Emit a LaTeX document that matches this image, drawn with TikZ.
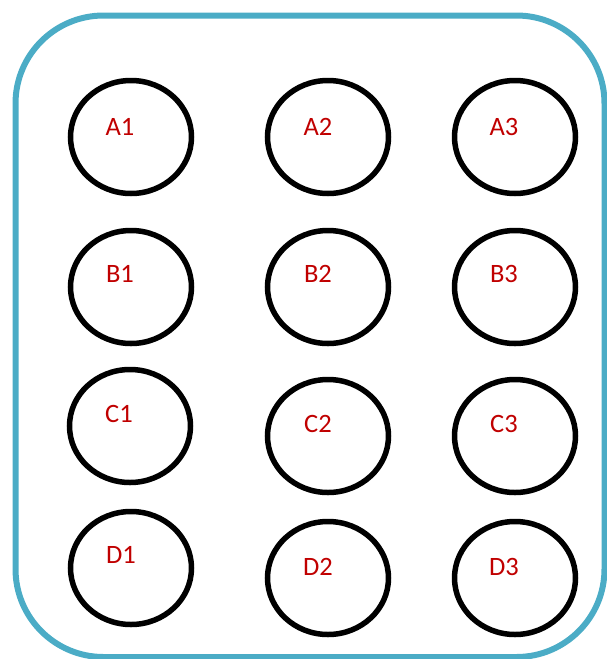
\documentclass[tikz,border=0pt]{standalone}
\usepackage{fontspec}
\setmainfont{Carlito}
\usetikzlibrary{shapes.geometric}
\definecolor{frameblue}{HTML}{4BACC6}
\definecolor{labred}{HTML}{C00000}
\tikzset{
  well/.style={draw=black, line width=5.5pt, ellipse, minimum width=121pt, minimum height=113pt, inner sep=0pt},
  welllabel/.style={text=labred, font=\fontsize{26.5}{30}\selectfont, inner sep=0pt, anchor=center}
}
\begin{document}
\begin{tikzpicture}[x=1pt,y=-1pt]
\useasboundingbox (0,0) rectangle (606,659);
\draw[frameblue, line width=6pt, rounded corners=88pt] (15.5,15.5) rectangle (604.5,657);
% wells
\node[well] (A1) at (131,137) {};
\node[well] (A2) at (328,137) {};
\node[well] (A3) at (515,137) {};
\node[well] (B1) at (131,287) {};
\node[well] (B2) at (328,287) {};
\node[well] (B3) at (515,287) {};
\node[well] (C1) at (130,426) {};
\node[well] (C2) at (328,436) {};
\node[well] (C3) at (515,436) {};
\node[well] (D1) at (131,568) {};
\node[well] (D2) at (328,578) {};
\node[well] (D3) at (515,578) {};
% labels
\node[welllabel] (lA1) at (120,127) {A1};
\node[welllabel] (lA2) at (318,127) {A2};
\node[welllabel] (lA3) at (504,127) {A3};
\node[welllabel] (lB1) at (120,274) {B1};
\node[welllabel] (lB2) at (318,274) {B2};
\node[welllabel] (lB3) at (504,274) {B3};
\node[welllabel] (lC1) at (119,414) {C1};
\node[welllabel] (lC2) at (318,424) {C2};
\node[welllabel] (lC3) at (504,424) {C3};
\node[welllabel] (lD1) at (121,555) {D1};
\node[welllabel] (lD2) at (318,567) {D2};
\node[welllabel] (lD3) at (504,567) {D3};
\end{tikzpicture}
\end{document}
